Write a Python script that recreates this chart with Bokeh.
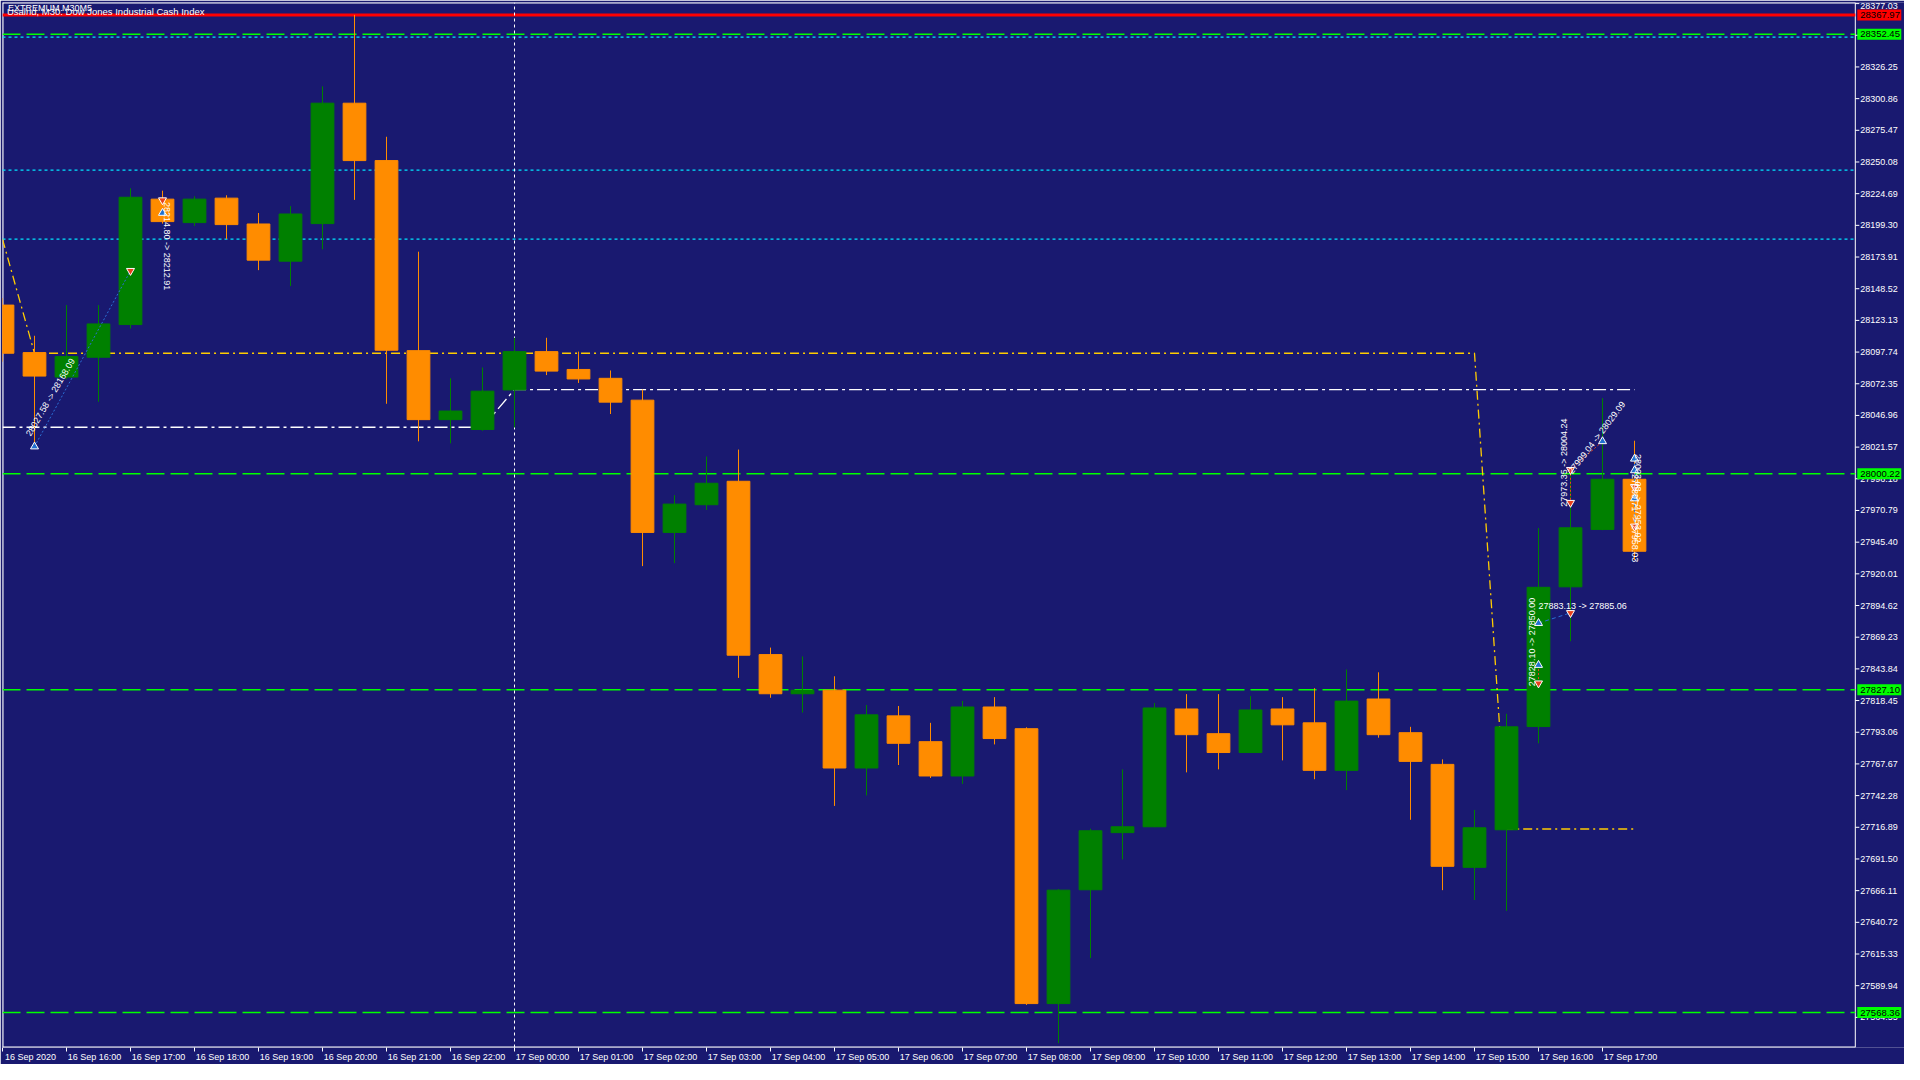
import math
from bokeh.plotting import figure
from bokeh.models import ColumnDataSource, Range1d, FixedTicker, LinearAxis
from bokeh.core.properties import value
from bokeh.embed import file_html
from bokeh.resources import INLINE

# ---------------- data ----------------
candle_idx = list(range(52))
opens = [28135.4, 28097.3, 28077.7, 28093.6, 28119.8, 28220.3, 28201.5, 28221.1,
         28200.4, 28170.6, 28200.7, 28297.2, 28251.2, 28098.9, 28043.6, 28035.7,
         28067.4, 28098.1, 28083.8, 28076.7, 28059.2, 27953.2, 27975.4, 27994.2,
         27855.3, 27823.9, 27826.8, 27764.4, 27806.2, 27785.5, 27758.0, 27813.3,
         27795.9, 27575.6, 27666.8, 27712.6, 27717.3, 27811.7, 27791.9, 27776.8,
         27811.7, 27800.6, 27762.5, 27819.7, 27792.7, 27767.3, 27684.8, 27714.9,
         27797.6, 27909.6, 27955.6, 27995.8]
highs = [28141.0, 28110.8, 28135.4, 28135.4, 28229.0, 28227.1, 28222.6, 28223.4,
         28209.2, 28214.7, 28310.7, 28367.97, 28270.3, 28178.2, 28076.7, 28085.4,
         28109.2, 28109.2, 28098.1, 28083.0, 28067.7, 27983.1, 28014.0, 28019.6,
         27860.9, 27853.8, 27837.9, 27814.9, 27814.1, 27800.6, 27818.1, 27821.2,
         27797.0, 27667.3, 27715.7, 27763.3, 27816.5, 27823.6, 27823.6, 27822.0,
         27821.2, 27828.4, 27843.4, 27841.1, 27797.4, 27771.3, 27730.8, 27807.8,
         27956.7, 28004.0, 28060.8, 28026.7]
lows = [28090.0, 28025.4, 28076.0, 28057.9, 28116.6, 28200.7, 28198.8, 28188.3,
        28163.4, 28150.7, 28180.1, 28219.7, 28056.3, 28026.2, 28024.6, 28034.6,
        28037.3, 28079.3, 28073.0, 28048.1, 27926.2, 27928.6, 27971.2, 27836.6,
        27820.7, 27808.8, 27734.0, 27742.4, 27766.8, 27756.4, 27751.7, 27783.3,
        27574.5, 27543.9, 27612.1, 27691.1, 27717.0, 27760.9, 27763.3, 27776.5,
        27770.5, 27755.4, 27746.7, 27788.7, 27722.9, 27666.5, 27658.6, 27649.9,
        27784.2, 27866.0, 27955.0, 27931.2]
closes = [28096.8, 28078.5, 28094.1, 28120.3, 28221.8, 28202.3, 28220.3, 28199.9,
          28171.4, 28208.4, 28297.2, 28251.2, 28099.2, 28043.6, 28050.5, 28066.4,
          28098.1, 28082.5, 28076.2, 28057.6, 27953.2, 27975.9, 27992.6, 27854.8,
          27823.9, 27826.8, 27764.4, 27807.0, 27784.2, 27758.0, 27813.3, 27788.0,
          27575.6, 27666.5, 27714.1, 27717.3, 27812.5, 27791.1, 27776.8, 27810.9,
          27799.0, 27762.5, 27818.0, 27791.1, 27769.7, 27685.6, 27716.5, 27797.4,
          27909.2, 27956.9, 27995.8, 27938.1]

time_tick_idx = [0, 2, 4, 6, 8, 10, 12, 14, 16, 18, 20, 22, 24, 26, 28, 30, 32,
                 34, 36, 38, 40, 42, 44, 46, 48, 50]
time_tick_labels = ["16 Sep 2020", "16 Sep 16:00", "16 Sep 17:00", "16 Sep 18:00",
                    "16 Sep 19:00", "16 Sep 20:00", "16 Sep 21:00", "16 Sep 22:00",
                    "17 Sep 00:00", "17 Sep 01:00", "17 Sep 02:00", "17 Sep 03:00",
                    "17 Sep 04:00", "17 Sep 05:00", "17 Sep 06:00", "17 Sep 07:00",
                    "17 Sep 08:00", "17 Sep 09:00", "17 Sep 10:00", "17 Sep 11:00",
                    "17 Sep 12:00", "17 Sep 13:00", "17 Sep 14:00", "17 Sep 15:00",
                    "17 Sep 16:00", "17 Sep 17:00"]

price_ticks = [28377.03, 28351.64, 28326.25, 28300.86, 28275.47, 28250.08, 28224.69,
               28199.30, 28173.91, 28148.52, 28123.13, 28097.74, 28072.35, 28046.96,
               28021.57, 27996.18, 27970.79, 27945.40, 27920.01, 27894.62, 27869.23,
               27843.84, 27818.45, 27793.06, 27767.67, 27742.28, 27716.89, 27691.50,
               27666.11, 27640.72, 27615.33, 27589.94, 27564.55]

level_red = [28367.97]
levels_green = [28352.45, 28000.22, 27827.10, 27568.36]
levels_cyan = [28350.1, 28243.5, 28188.3]
day_separator = [16]

yellow_x = [0, 1, 46, 47, 51]
yellow_y = [28188.2, 28096.8, 28096.8, 27715.5, 27715.5]
white_x = [0, 15, 16, 51]
white_y = [28037.5, 28037.5, 28067.7, 28067.7]

buy_x = [1, 5, 48, 48, 50, 51, 51, 51]
buy_y = [28022.0, 28209.2, 27880.5, 27846.9, 28026.2, 28012.2, 28002.9, 27980.4]
sell_x = [4, 5, 48, 49, 49, 49, 51, 51]
sell_y = [28162.9, 28219.5, 27832.3, 28003.4, 27977.0, 27888.7, 27989.7, 27958.0]

ann_x = [0.80, 5.14, 48.80, 48.99, 47.81, 48.0, 51.12, 51.02]
ann_y = [28031.0, 28218.0, 27973.8, 28001.0, 27830.0, 27894.5, 28016.0, 28000.0]
ann_text = ["28027.58 -> 28168.09", "28214.80 -> 28212.91", "27973.35 -> 28004.24",
            "27999.04 -> 28029.09", "27828.10 -> 27850.00", "27883.13 -> 27885.06",
            "28003.08 -> 27953.92", "27989.71 -> 27958.03"]
ann_angle_deg = [59.7, -90, 90, 52.9, 90, 0, -90, -90]

title_text = "Usalnd, M30: Dow Jones Industrial Cash Index"
overlay_text = "EXTREMUM M30M5"

# ---------------- styles / layout ----------------
BG = "#191970"
UP = "#008000"
DOWN = "#FF8C00"
FONT = "Liberation Sans"
PX = 1.0 / 32.0            # data units per screen pixel on x (32 px per bar)
X_END = 1902 * PX          # frame covers chart + price scale
AXIS_X = 57.9              # price scale line position
Y0, Y1 = 27540.4, 28377.9

p = figure(width=1904, height=1064, output_backend="svg", toolbar_location=None,
           x_range=Range1d(0, X_END), y_range=Range1d(Y0, Y1),
           x_axis_location=None, y_axis_location=None,
           min_border_left=2, min_border_top=2, min_border_right=0,
           min_border_bottom=0)
p.background_fill_color = BG
p.border_fill_color = BG
p.outline_line_color = None
p.grid.visible = False

# bottom time axis: tick-mark axis (no labels) + label axis placed right of the ticks
ax_ticks = LinearAxis(ticker=FixedTicker(ticks=time_tick_idx),
                      axis_line_color=None, major_tick_line_color="white",
                      major_tick_out=4, major_tick_in=0, minor_tick_line_color=None,
                      minor_tick_out=0, major_label_text_color=None,
                      major_label_standoff=0)
p.add_layout(ax_ticks, "below")
LABEL_SHIFT = 0.875
lab_pos = [t + LABEL_SHIFT for t in time_tick_idx]
ax_labels = LinearAxis(ticker=FixedTicker(ticks=lab_pos),
                       major_label_overrides={lp: lab for lp, lab in zip(lab_pos, time_tick_labels)},
                       axis_line_color=None, major_tick_line_color=None,
                       major_tick_out=0, major_tick_in=0, minor_tick_line_color=None,
                       minor_tick_out=0, major_label_standoff=0,
                       major_label_text_color="white",
                       major_label_text_font=FONT, major_label_text_font_size="9px")
p.add_layout(ax_labels, "below")

# chart border (left, top, bottom) and price-scale line
p.segment(x0=[0, 0, 0, AXIS_X], y0=[Y0, Y1, Y0, Y0], x1=[0, AXIS_X, AXIS_X, AXIS_X],
          y1=[Y1, Y1, Y0, Y1], line_color="white", line_width=[2, 2, 2, 1])

# horizontal levels (stop at the price scale)
n_c, n_g = len(levels_cyan), len(levels_green)
p.segment(x0=[0] * n_c, y0=levels_cyan, x1=[AXIS_X] * n_c, y1=levels_cyan,
          line_color="#00E5FF", line_width=1.2, line_dash="3 3")
p.segment(x0=[0] * n_g, y0=levels_green, x1=[AXIS_X] * n_g, y1=levels_green,
          line_color="#00FF00", line_width=1.5, line_dash="18 6")
p.segment(x0=[0], y0=level_red, x1=[AXIS_X], y1=level_red, line_color="#FF0000",
          line_width=3)
for d in day_separator:
    p.segment(x0=[d], y0=[Y0], x1=[d], y1=[Y1], line_color="white", line_width=1,
              line_dash="3 3")

# swing lines
p.line(yellow_x, yellow_y, line_color="#FFCC00", line_width=1.3, line_dash="9 4 2 4")
p.line(white_x, white_y, line_color="white", line_width=1.3, line_dash="13 4 3 4")

# candles
src = ColumnDataSource(dict(
    x=candle_idx,
    top=[max(o, c) for o, c in zip(opens, closes)],
    bottom=[min(o, c) for o, c in zip(opens, closes)],
    high=highs, low=lows,
    color=[UP if c >= o else DOWN for o, c in zip(opens, closes)],
))
p.segment(x0="x", y0="low", x1="x", y1="high", line_color="color", line_width=1, source=src)
p.vbar(x="x", width=0.71, top="top", bottom="bottom", fill_color="color",
       line_color="color", line_width=1, source=src)

# trade connector lines
p.line([1, 4], [28022.0, 28162.9], line_color="#2A6FD6", line_width=1, line_dash="2 2")
p.line([48, 49], [27880.5, 27888.7], line_color="#2A6FD6", line_width=1, line_dash="4 3")
p.line([49, 50], [28003.4, 28026.2], line_color="#E8401C", line_width=1, line_dash="2 2")
p.line([49, 49], [28003.4, 27977.0], line_color="#E8401C", line_width=1, line_dash="2 2")
p.line([48, 48], [27846.9, 27832.3], line_color="#E8401C", line_width=1, line_dash="2 2")
p.line([51, 51], [28012.2, 27958.0], line_color="#2A6FD6", line_width=1, line_dash="3 2")

# trade arrows
p.scatter(buy_x, buy_y, marker="triangle", size=8, fill_color="#1F6FD0",
          line_color="white", line_width=1)
p.scatter(sell_x, sell_y, marker="inverted_triangle", size=8, fill_color="#E8401C",
          line_color="white", line_width=1)

# trade texts
p.text(x=ann_x, y=ann_y, text=ann_text, angle=[math.radians(a) for a in ann_angle_deg],
       text_align="left", text_baseline="middle", text_color="white",
       text_font=value(FONT), text_font_size="9px")

# title texts (top-left)
p.text(x=[0.17], y=[28377.6], text=[overlay_text], text_align="left",
       text_baseline="top", text_color="white", text_font=value(FONT),
       text_font_size="9px")
p.text(x=[0.14], y=[28375.0], text=[title_text], text_align="left",
       text_baseline="top", text_color="white", text_font=value(FONT),
       text_font_size="9.5px")

# price scale: tick marks and labels
n_t = len(price_ticks)
p.segment(x0=[AXIS_X] * n_t, y0=price_ticks, x1=[AXIS_X + 4 * PX] * n_t, y1=price_ticks,
          line_color="white", line_width=1)
tick_text = [f"{t:.2f}" for t in price_ticks]
p.text(x=[AXIS_X + 5 * PX] * (n_t - 1), y=price_ticks[1:], text=tick_text[1:],
       text_align="left", text_baseline="middle", text_color="white",
       text_font=value(FONT), text_font_size="9px")
p.text(x=[AXIS_X + 5 * PX], y=[Y1], text=tick_text[:1], text_align="left",
       text_baseline="top", text_color="white", text_font=value(FONT),
       text_font_size="9px")

# price boxes on the scale
box_levels = level_red + levels_green
box_colors = ["#FF0000"] + ["#00FF00"] * len(levels_green)
p.rect(x=[AXIS_X + 24 * PX] * len(box_levels), y=box_levels, width=44, height=11,
       width_units="screen", height_units="screen", fill_color=box_colors,
       line_color=None)
p.text(x=[AXIS_X + 5 * PX] * len(box_levels), y=box_levels,
       text=[f"{v:.2f}" for v in box_levels], text_align="left", text_baseline="middle",
       text_color="black", text_font=value(FONT), text_font_size="9.5px")

open("out.html", "w").write(file_html(p, INLINE))
